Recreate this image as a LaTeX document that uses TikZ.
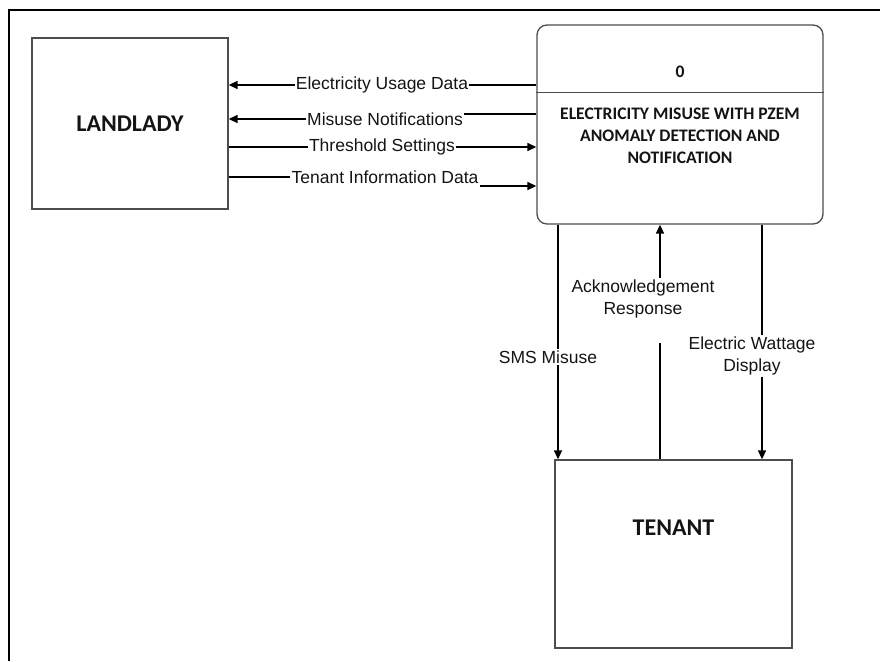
\documentclass[tikz,border=0pt]{standalone}
\usepackage{fontspec}
\setmainfont{Liberation Sans}
\newfontfamily\boxfont{Carlito}
\usetikzlibrary{positioning,arrows.meta,calc}
\definecolor{DFDline}{HTML}{4D4D4D}
\definecolor{DFDink}{HTML}{141414}
\tikzset{
  entity/.style={draw=DFDline, line width=1.3pt, fill=white, inner sep=0pt},
  entitytxt/.style={font=\boxfont\bfseries\fontsize{24}{28}\selectfont, text=DFDink},
  procbox/.style={draw=DFDline, line width=1.3pt, rounded corners=10pt, fill=white, inner sep=0pt},
  proctxt/.style={align=center, font=\boxfont\bfseries\fontsize{17.6}{22}\selectfont, text=DFDink},
  flowlbl/.style={fill=white, inner xsep=1pt, inner ysep=2pt, align=center, font=\fontsize{17.5}{22}\selectfont, text=DFDink},
  flowline/.style={draw=black, line width=1.6pt},
  flowarr/.style={flowline, -{Triangle[length=9pt, width=8pt]}}
}

\begin{document}
\begin{tikzpicture}[x=1pt, y=-1pt]
  \useasboundingbox (0,0) rectangle (880,661);
  \draw[line width=1.4pt] (9,661) -- (9,10) -- (880,10);

  % external entities and process
  \node[entity, minimum width=196pt, minimum height=171pt] (landlady) at (130,123.5) {};
  \node[entitytxt] at (landlady.center) {LANDLADY};
  \node[procbox, minimum width=286pt, minimum height=199pt] (process) at (680,124.5) {};
  \draw[DFDline, line width=1.3pt] ($(process.north west)+(0,68)$) -- ($(process.north east)+(0,68)$);
  \node[proctxt] (pid) at ($(process.north)+(0,47)$) {0};
  \node[proctxt] (pname) at ($(process.north)+(0,111)$) {ELECTRICITY MISUSE WITH PZEM\\ANOMALY DETECTION AND\\NOTIFICATION};
  \node[entity, minimum width=237pt, minimum height=188pt] (tenant) at (673.5,554) {};
  \node[entitytxt] at ($(tenant.center)+(0,-26)$) {TENANT};

  % flows landlady <-> process
  \node[flowlbl] (eud) at (382,85) {Electricity Usage Data};
  \node[flowlbl] (mn) at (385,119) {Misuse Notifications};
  \node[flowlbl] (ts) at (382,147) {Threshold Settings};
  \node[flowlbl] (tid) at (385,177) {Tenant Information Data};
  \draw[flowline] (process.west |- eud) -- (eud.east);
  \draw[flowarr] (eud.west) -- (landlady.east |- eud);
  \draw[flowline] ($(process.west |- mn.east)+(0,-5)$) -- ($(mn.east)+(0,-5)$);
  \draw[flowarr] (mn.west) -- (landlady.east |- mn);
  \draw[flowline] (landlady.east |- ts) -- (ts.west);
  \draw[flowarr] (ts.east) -- (process.west |- ts);
  \draw[flowline] (landlady.east |- tid) -- (tid.west);
  \draw[flowarr] ($(tid.east)+(0,9)$) -- ($(process.west |- tid)+(0,9)$);

  % flows process <-> tenant
  \coordinate (smsx) at (558,357);
  \coordinate (ackgap) at (660,343);
  \coordinate (ewdx) at (762,356);
  \draw[flowarr] (process.south -| smsx) -- (tenant.north -| smsx);
  \draw[flowarr] (process.south -| ewdx) -- (tenant.north -| ewdx);
  \draw[flowline] (tenant.north -| ackgap) -- (ackgap);
  \node[flowlbl] (sms) at (548,357) {SMS Misuse};
  \node[flowlbl] (ack) at (643,299) {Acknowledgement\\Response};
  \node[flowlbl] (ewd) at (752,356) {Electric Wattage\\Display};
  \draw[flowarr] (ack.north -| ackgap) -- (process.south -| ackgap);
\end{tikzpicture}
\end{document}
